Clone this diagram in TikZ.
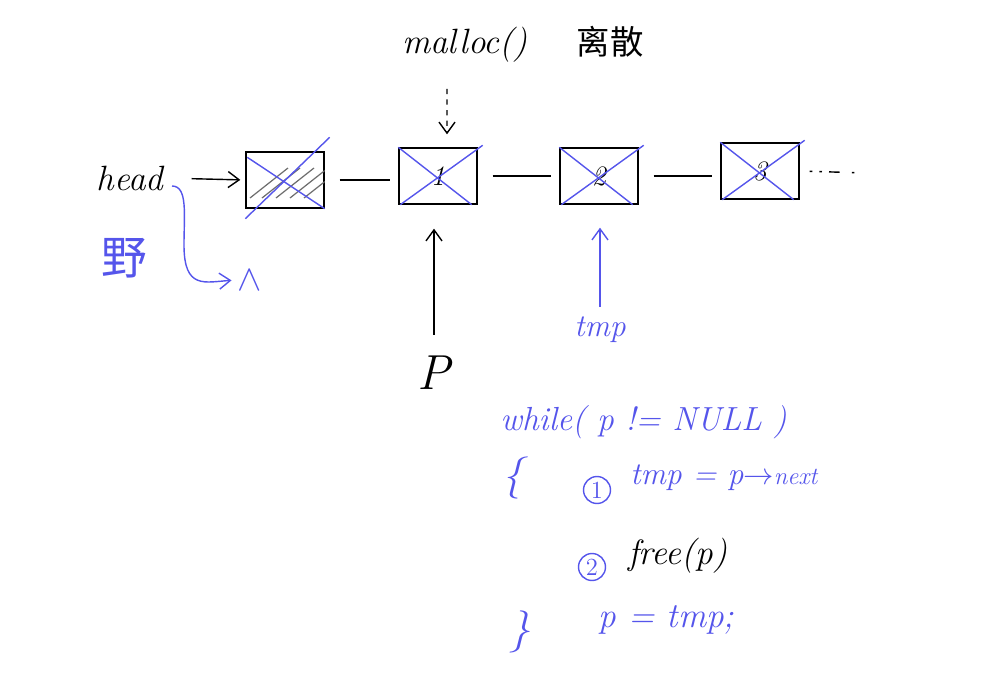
\documentclass[tikz,border=0pt]{standalone}
\usepackage{fontspec}
\usepackage{amsmath}
\usetikzlibrary{arrows.meta}
\usetikzlibrary{positioning}
\newfontfamily\cjk{Noto Sans CJK SC}
\tikzset{cell/.style = {draw, line width = 0.8pt, minimum width = 1.56cm, minimum height = 1.12cm,
                        inner sep = 0, font = \fontsize{16}{16}\selectfont\itshape}}
\tikzset{link/.style = {line width = 0.8pt, shorten <= 0.3cm, shorten >= 0.16cm}}
\tikzset{ptr/.style = {line width = 0.8pt, -{Straight Barb[length=2.2mm, width=3.2mm]}}}
\tikzset{cross/.style = {mblue, line width = 0.8pt}}
\tikzset{hand/.style = {inner sep = 0, font = \fontsize{20}{20}\selectfont\itshape}}
\tikzset{num/.style = {draw, mblue, circle, line width = 0.8pt, minimum size = 0.54cm,
                       inner sep = 0, font = \fontsize{14}{14}\selectfont}}
\definecolor{mblue}{RGB}{85, 85, 235}
\definecolor{mgray}{RGB}{110, 110, 110}

\begin{document}
\begin{tikzpicture}[x = 0.02cm, y = -0.02cm]
      \useasboundingbox (0, 0) rectangle (998, 683);

      % list cells
      \node [hand] (head) at (130, 178) {head};
      \node [cell] (n0) at (285, 180) {};
      \node [cell] (n1) at (438, 176) {1};
      \node [cell] (n2) at (599, 176) {2};
      \node [cell] (n3) at (760, 171) {3};
      \coordinate (tail) at (866, 173);

      \begin{scope}
        \clip (n0.south west) rectangle (n0.north east);
        \foreach \x in {250, 262, 276, 290, 304} {
          \draw [mgray, line width = 0.7pt] (\x, 198) -- ++(38, -30);
        }
      \end{scope}

      \draw [link] (n0.east) -- (n0.east -| n1.west);
      \draw [link] (n1.east) -- (n2.west);
      \draw [link] (n2.east) -- (n2.east -| n3.west);
      \draw [link, shorten <= 0.2cm, shorten >= 0, dash pattern = on 1.5pt off 4pt on 1.5pt off 4pt on 6pt off 7pt on 1.5pt off 9pt]
            (n3.east) -- (tail);
      \draw [ptr, shorten <= 0.56cm, shorten >= 0.1cm] (head.east) -- (n0.west);

      % freed cells
      \draw [cross] ([shift = {(2, 6)}]n0.north west) -- (n0.south east);
      \draw [cross] ([shift = {(0, 10)}]n0.south west) -- ([shift = {(5, -14)}]n0.north east);
      \foreach \n in {n1, n2, n3} {
        \draw [cross] (\n.north west) -- ([shift = {(-6, 0)}]\n.south east);
        \draw [cross] ([shift = {(2, 0)}]\n.south west) -- ([shift = {(5, -2)}]\n.north east);
      }

      % labels above
      \node [hand] (malloc) at (465, 45) {malloc()};
      \node [inner sep = 0, font = \cjk\fontsize{19}{19}\selectfont] (scatter) at (610, 42) {离散};
      \draw [ptr, dashed, shorten <= 0.52cm, shorten >= 0.26cm]
            ([xshift = -0.36cm]malloc.south) -- ([xshift = 0.18cm]n1.north);

      % pointers below
      \node [hand, font = \fontsize{28}{28}\selectfont\itshape] (pl) at (434, 373) {P};
      \draw [ptr, shorten <= 0.42cm, shorten >= 0.48cm] (pl.north) -- (pl.north |- n1.south);
      \node [hand, mblue, font = \fontsize{18}{18}\selectfont\itshape] (tmpl) at (600, 330) {tmp};
      \draw [ptr, mblue, shorten <= 0.2cm, shorten >= 0.46cm] (tmpl.north) -- (tmpl.north |- n2.south);

      \coordinate (hout) at (172, 186);
      \node [mblue, inner sep = 0, font = \fontsize{20}{20}\selectfont] (nil) at (250, 280) {$\wedge$};
      \draw [ptr, mblue, shorten >= 0.12cm] (hout) .. controls (188, 186) and (184, 215) .. (184, 245)
            .. controls (184, 290) and (205, 282) .. (nil.west);
      \node [mblue, inner sep = 0, font = \cjk\fontsize{26}{26}\selectfont] (wild) at (124, 258) {野};

      % freeing loop
      \node [hand, mblue, anchor = west, font = \fontsize{19}{19}\selectfont\itshape] (loop) at (500, 422)
            {while( p != NULL )};
      \node [hand, mblue, font = \fontsize{24}{24}\selectfont\itshape] (lbrace) at (513, 478) {\{};
      \node [num] (c1) at (597, 490) {1};
      \node [hand, mblue, anchor = west, font = \fontsize{18}{18}\selectfont\itshape] (step1) at (630, 478)
            {tmp = p$\rightarrow${\fontsize{14}{14}\selectfont next}};
      \node [num] (c2) at (592, 567) {2};
      \node [hand, anchor = west] (step2) at (628, 556) {free(p)};
      \node [hand, mblue, anchor = west] (step3) at (598, 620) {p = tmp;};
      \node [hand, mblue, font = \fontsize{24}{24}\selectfont\itshape] (rbrace) at (520, 632) {\}};
    \end{tikzpicture}
\end{document}
